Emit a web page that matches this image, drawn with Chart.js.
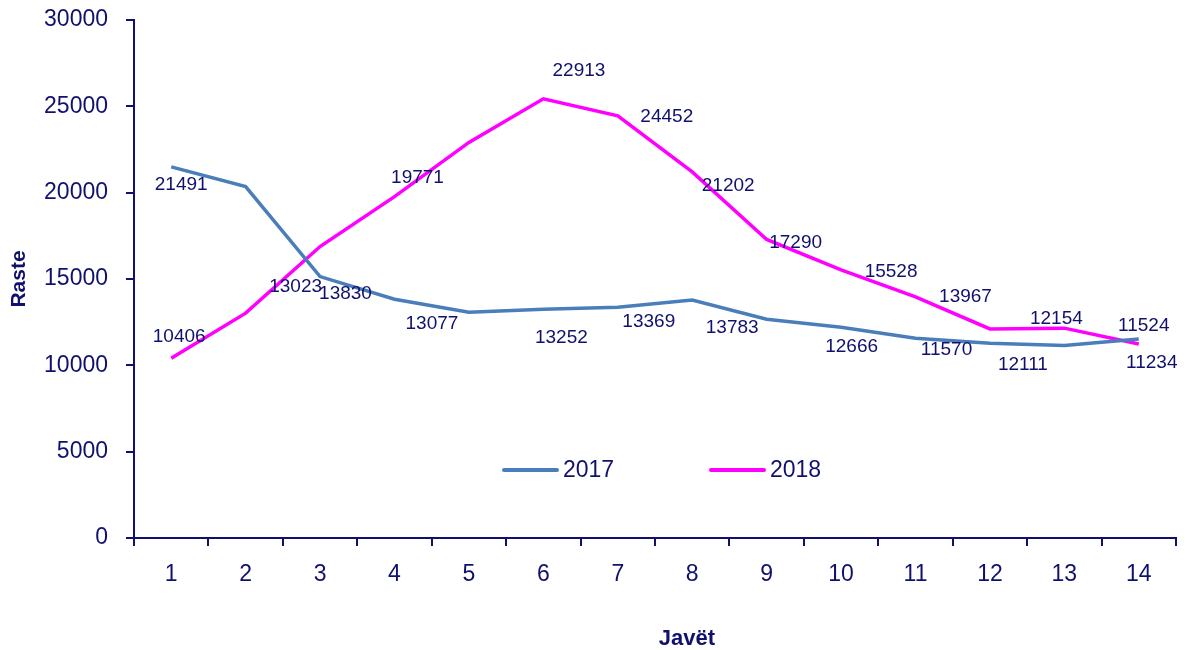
<!DOCTYPE html>
<html>
<head>
<meta charset="utf-8">
<script src="https://cdn.jsdelivr.net/npm/chart.js@4.4.1/dist/chart.umd.min.js"></script>
<style>
  html, body { margin: 0; padding: 0; background: #fff; }
  #wrap { width: 1185px; height: 650px; position: relative; }
</style>
</head>
<body>
<div id="wrap"><canvas id="chart"></canvas></div>
<script>
// --- data ---
const weeks = ['1', '2', '3', '4', '5', '6', '7', '8', '9', '10', '11', '12', '13', '14'];
const cases2017 = [21491, 20350, 15140, 13830, 13077, 13252, 13369, 13783, 12666, 12200, 11570, 11283, 11144, 11524];
const cases2018 = [10406, 13023, 16880, 19771, 22913, 25440, 24452, 21202, 17290, 15528, 13967, 12111, 12154, 11234];
const yTicks = [0, 5000, 10000, 15000, 20000, 25000, 30000];

// where each value label sits relative to its point (null = no label shown)
const labelShift2017 = [[10, 18], null, null, [-49, -5], [-37, 12], [18, 29], [31, 15], [40, 28], [85, 27], null, [31, 12], null, null, [5, -13]];
const labelShift2018 = [[8, -22], [50, -26], null, [23, -19], [110, -72], null, [49, 1], [36, 14], [29, 3], [50, 2], [50, 0], [33, 36], [-8, -9], [13, 19]];

const navy = '#10106e';
const font = 'Liberation Sans, Arial, sans-serif';

const valueLabels = {
    id: 'valueLabels',
    afterDatasetsDraw(chart) {
        const ctx = chart.ctx;
        ctx.save();
        ctx.font = '19px ' + font;
        ctx.fillStyle = navy;
        ctx.textAlign = 'center';
        ctx.textBaseline = 'middle';
        chart.data.datasets.forEach((ds, i) => {
            const meta = chart.getDatasetMeta(i);
            meta.data.forEach((pt, j) => {
                const s = ds.labelShift[j];
                if (!s) return;
                ctx.fillText(String(ds.data[j]), pt.x + s[0], pt.y + s[1]);
            });
        });
        ctx.restore();
    }
};

// legend sits inside the plot area, and axis titles are placed by hand
const extras = {
    id: 'extras',
    afterDraw(chart) {
        const ctx = chart.ctx;
        ctx.save();
        // legend
        let x = 504;
        const y = 470;
        ctx.font = '23px ' + font;
        ctx.textBaseline = 'middle';
        ctx.textAlign = 'left';
        chart.data.datasets.forEach(ds => {
            ctx.strokeStyle = ds.borderColor;
            ctx.lineWidth = 4;
            ctx.lineCap = 'round';
            ctx.beginPath();
            ctx.moveTo(x, y);
            ctx.lineTo(x + 53, y);
            ctx.stroke();
            ctx.fillStyle = navy;
            ctx.fillText(ds.label, x + 59, y + 1);
            x += 207;
        });
        // axis titles
        ctx.fillStyle = navy;
        ctx.font = 'bold 22px ' + font;
        ctx.textAlign = 'center';
        ctx.fillText('Javët', 687, 639);
        ctx.translate(19, 279);
        ctx.rotate(-Math.PI / 2);
        ctx.font = 'bold 21px ' + font;
        ctx.fillText('Raste', 0, 0);
        ctx.restore();
    }
};

new Chart(document.getElementById('chart'), {
    type: 'line',
    data: {
        labels: weeks,
        datasets: [
            { label: '2017', data: cases2017, borderColor: '#4a7ebb', borderWidth: 3.5, pointRadius: 0, tension: 0, labelShift: labelShift2017 },
            { label: '2018', data: cases2018, borderColor: '#ff00ff', borderWidth: 3.5, pointRadius: 0, tension: 0, labelShift: labelShift2018 }
        ]
    },
    options: {
        responsive: true,
        maintainAspectRatio: false,
        animation: false,
        layout: { padding: { top: 20, right: 9, bottom: 0, left: 0 } },
        plugins: {
            legend: { display: false },
            tooltip: { enabled: false }
        },
        scales: {
            x: {
                offset: true,
                grid: { offset: true, drawOnChartArea: false, tickLength: 8, color: navy, lineWidth: 2 },
                border: { display: true, color: navy, width: 2 },
                ticks: { color: navy, font: { family: font, size: 23 }, padding: 15, maxRotation: 0 },
                afterFit: (s) => { s.height = 112; s.paddingLeft = 0; s.paddingRight = 0; }
            },
            y: {
                min: 0,
                max: 30000,
                afterBuildTicks: (s) => { s.ticks = yTicks.map(v => ({ value: v })); },
                grid: { drawOnChartArea: false, tickLength: 8, color: navy, lineWidth: 2 },
                border: { display: true, color: navy, width: 2 },
                ticks: { color: navy, font: { family: font, size: 23 }, padding: 18, callback: (v) => String(v) },
                afterFit: (s) => { s.width = 134; s.paddingTop = 0; s.paddingBottom = 0; }
            }
        }
    },
    plugins: [valueLabels, extras]
});
</script>
</body>
</html>
